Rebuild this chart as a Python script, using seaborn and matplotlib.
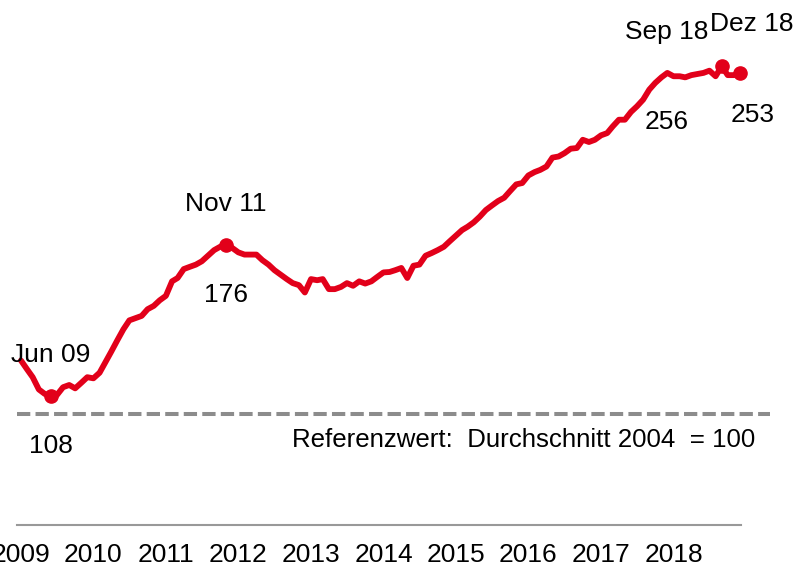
import pandas as pd
import numpy as np
import seaborn as sns
import matplotlib
matplotlib.use('Agg')
import matplotlib.pyplot as plt

# Index, monatlich Jan 2009 - Dez 2018 (Durchschnitt 2004 = 100)
monate = pd.date_range('2009-01-01', periods=120, freq='MS')
werte = [
    124, 120, 116.5, 111, 109, 108, 108.5, 112, 113, 111.5, 114, 116.5,
    116, 118.5, 123, 128, 133, 138, 142, 143, 144, 147, 148.5, 151,
    153, 159.5, 161, 165, 166, 167, 168.5, 171, 173.5, 175, 176, 174.5,
    172.5, 171.5, 171.5, 171.5, 169, 167, 164.5, 162.5, 160.5, 158.7, 157.8, 154.5,
    160.5, 160, 160.5, 156, 156, 157, 158.7, 157.5, 159.5, 158.5, 159.5, 161.5,
    163.5, 163.7, 164.5, 165.5, 161, 166.5, 167, 171, 172.2, 173.5, 175, 177.5,
    180, 182.5, 184, 186, 188.5, 191.5, 193.5, 195.5, 197, 200, 203, 203.6,
    207, 208.5, 209.5, 211, 215, 215.5, 217, 219, 219.3, 223, 222, 223,
    225, 226, 229, 232, 232, 235.5, 238, 241, 245.5, 248.5, 251, 253,
    251.5, 251.5, 251, 252, 252.5, 253, 254, 251.5, 256, 252, 252, 253,
]
df = pd.DataFrame({'monat': monate, 'wert': werte})

# markierte Punkte: (Index, oberer Text, unterer Text, Offsets in px)
marken = [
    (5, 'Jun 09', '108', (0, 41), (0, -50)),
    (34, 'Nov 11', '176', (0, 41), (0, -50)),
    (116, 'Sep 18', '256', (-55, 34), (-55, -56)),
    (119, 'Dez 18', '253', (12, 49), (13, -42)),
]
jahre = list(range(2009, 2019))
referenz = 100
rot = '#e2001a'
fs = 19

sns.set_theme(style='white')
plt.rcParams['font.family'] = ['Liberation Sans', 'DejaVu Sans']

fig = plt.figure(figsize=(7.96, 5.69), dpi=100)
ax = fig.add_axes([17 / 796, 44 / 569, 724 / 796, 525 / 569])

# Referenzlinie
ax.plot([pd.Timestamp('2008-12-12'), pd.Timestamp('2019-05-01')], [referenz, referenz],
        color='#8c8c8c', lw=2.9, ls=(0, (3.3, 1.3)), clip_on=False, zorder=1)

sns.lineplot(data=df, x='monat', y='wert', ax=ax, color=rot, lw=4.2, zorder=3)

pk = 0.72  # px -> pt
for i, oben, unten, o1, o2 in marken:
    x, y = monate[i], werte[i]
    ax.plot([x], [y], 'o', color=rot, ms=9.5, clip_on=False, zorder=4)
    ax.annotate(oben, (x, y), xytext=(o1[0] * pk, o1[1] * pk), textcoords='offset points',
                ha='center', va='center', fontsize=fs, color='black')
    ax.annotate(unten, (x, y), xytext=(o2[0] * pk, o2[1] * pk), textcoords='offset points',
                ha='center', va='center', fontsize=fs, color='black')

ax.text(pd.Timestamp('2019-02-15'), 88.3, 'Referenzwert:  Durchschnitt 2004  = 100',
        ha='right', va='center', fontsize=18.6, color='black')

ax.set_xlim(pd.Timestamp('2008-12-12'), pd.Timestamp('2018-12-07'))
ax.set_ylim(50.2, 285.7)
ax.set_xticks([pd.Timestamp(f'{j}-01-01') for j in jahre])
ax.set_xticklabels([str(j) for j in jahre])
ax.set_yticks([])
ax.set_xlabel('')
ax.set_ylabel('')
for s in ['left', 'top', 'right']:
    ax.spines[s].set_visible(False)
ax.spines['bottom'].set_color('#999999')
ax.spines['bottom'].set_linewidth(1.5)
ax.tick_params(axis='x', length=0, pad=13, labelsize=fs, colors='black')
ax.patch.set_alpha(0)

fig.savefig('out.png', dpi=100)
